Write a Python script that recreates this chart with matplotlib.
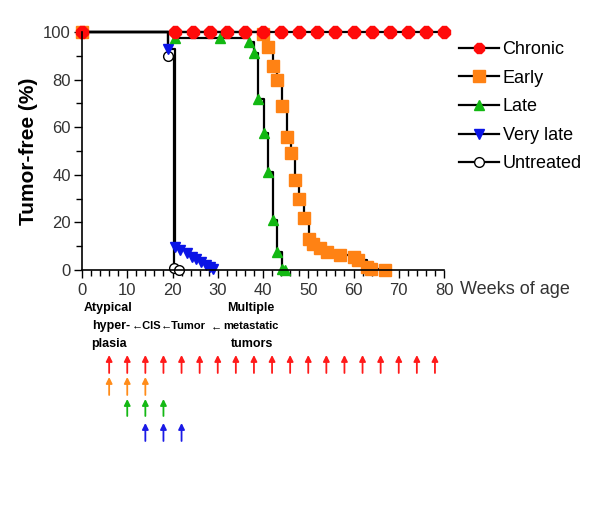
import matplotlib
matplotlib.use("Agg")
import matplotlib.pyplot as plt
import matplotlib.transforms as mtransforms
from matplotlib.lines import Line2D
from matplotlib.ticker import MultipleLocator

plt.rcParams['font.family'] = ['Liberation Sans', 'DejaVu Sans']

# Kaplan-Meier style curves (weeks, % tumor-free)
chronic_wk = [0, 20.5, 24.5, 28.2, 32, 36, 40, 44, 48, 52, 56, 60, 64, 68, 72, 76, 80]
chronic_pct = [100] * len(chronic_wk)

early_wk = [0, 40, 41.2, 42.1, 43.2, 44.1, 45.2, 46.1, 47.1, 48.0, 49.1, 50.2, 51.1,
            52.7, 54.1, 57.0, 60.0, 61.1, 62.9, 63.8, 67.0]
early_pct = [100, 99, 93.8, 85.7, 79.8, 68.9, 55.7, 49, 37.8, 29.8, 21.7, 12.9, 10.9,
             9.1, 7.7, 6.3, 5.6, 4.2, 1.4, 0.3, 0]

late_wk = [0, 20.5, 30.5, 37, 38, 39, 40.2, 41.2, 42.1, 43.2, 44.3, 44.9]
late_pct = [100, 97.4, 97.4, 96, 91, 72, 57.7, 41.3, 21, 7.7, 0.3, 0]

verylate_wk = [0, 19.1, 20.5, 21.7, 23.1, 24.2, 25.3, 26.4, 27.5, 28.3, 29.0]
verylate_pct = [100, 93, 9.8, 8.4, 7.0, 5.6, 4.5, 3.5, 2.1, 1.2, 0.5]

untreated_wk = [0, 19.1, 20.4, 21.4]
untreated_pct = [100, 90, 1, 0]

# treatment arrows (week of dosing) per group
arrow_chronic = list(range(6, 79, 4))
arrow_early = [6, 10, 14]
arrow_late = [10, 14, 18]
arrow_verylate = [14, 18, 22]

fig = plt.figure(figsize=(6, 5.05), dpi=100)
ax = fig.add_axes([82 / 600, 1 - 270 / 505, (444 - 82) / 600, (270 - 32) / 505])

kw = dict(color='black', lw=1.6, drawstyle='steps-post', clip_on=False)
ax.plot(untreated_wk, untreated_pct, marker='o', ms=7, mfc='white', mec='black', mew=1, **kw)
ax.plot(verylate_wk, verylate_pct, marker='v', ms=7, mfc='#0a14e6', mec='#0a14e6', **kw)
ax.plot(late_wk, late_pct, marker='^', ms=7, mfc='#12b812', mec='#12b812', **kw)
ax.plot(early_wk, early_pct, marker='s', ms=8, mfc='#ff8214', mec='#ff8214', **kw)
ax.plot(chronic_wk, chronic_pct, marker='8', ms=9, mfc='#ff0a0a', mec='#ff0a0a', **kw)

ax.set_xlim(0, 80)
ax.set_ylim(0, 100)
ax.xaxis.set_major_locator(MultipleLocator(10))
ax.xaxis.set_minor_locator(MultipleLocator(2))
ax.yaxis.set_major_locator(MultipleLocator(20))
ax.yaxis.set_minor_locator(MultipleLocator(10))
ax.tick_params(which='major', length=6, width=1, labelsize=12, colors='black', labelcolor='#333333')
ax.tick_params(axis='y', which='major', pad=2)
ax.tick_params(which='minor', length=4, width=1)
ax.spines['top'].set_visible(False)
ax.spines['right'].set_visible(False)
ax.spines['left'].set_linewidth(1.2)
ax.spines['bottom'].set_linewidth(1.2)
ax.set_ylabel('Tumor-free (%)', fontsize=15, fontweight='bold')
ax.yaxis.set_label_coords((38 - 82) / 362, 0.5)

fig.text(460 / 600, 1 - 290 / 505, 'Weeks of age', fontsize=13, va='center', ha='left', color='#333333')

handles = [
    Line2D([], [], color='black', lw=1.6, marker='8', ms=8, mfc='#ff0a0a', mec='#ff0a0a'),
    Line2D([], [], color='black', lw=1.6, marker='s', ms=8, mfc='#ff8214', mec='#ff8214'),
    Line2D([], [], color='black', lw=1.6, marker='^', ms=7, mfc='#12b812', mec='#12b812'),
    Line2D([], [], color='black', lw=1.6, marker='v', ms=7, mfc='#0a14e6', mec='#0a14e6'),
    Line2D([], [], color='black', lw=1.6, marker='o', ms=7, mfc='white', mec='black'),
]
labels = ['Chronic', 'Early', 'Late', 'Very late', 'Untreated']
fig.legend(handles, labels, loc='upper left', bbox_to_anchor=(452 / 600, 1 - 34 / 505),
           frameon=False, fontsize=13, handlelength=2.2, handletextpad=0.2,
           labelspacing=0.64, borderaxespad=0)

# stage annotations
tf = dict(fontsize=9, fontweight='bold', va='center', color='black')
af = dict(fontsize=8, fontweight='bold', va='center', color='black')
fig.text(108 / 600, 1 - 308 / 505, 'Atypical', ha='center', **tf)
fig.text(111 / 600, 1 - 326 / 505, 'hyper-', ha='center', **tf)
fig.text(109 / 600, 1 - 344 / 505, 'plasia', ha='center', **tf)
fig.text(132 / 600, 1 - 326 / 505, '\u2190CIS', ha='left', **af)
fig.text(161 / 600, 1 - 326 / 505, '\u2190Tumor', ha='left', **af)
fig.text(211 / 600, 1 - 326 / 505, '\u2190', ha='left', **af)
fig.text(251 / 600, 1 - 326 / 505, 'metastatic', ha='center', **af)
fig.text(251 / 600, 1 - 308 / 505, 'Multiple', ha='center', **tf)
fig.text(252 / 600, 1 - 344 / 505, 'tumors', ha='center', **tf)

# dosing arrows
trans = mtransforms.blended_transform_factory(ax.transData, fig.transFigure)
rows = [
    (arrow_chronic, '#ff1a1a', 355, 373),
    (arrow_early, '#ff8c1a', 377, 395),
    (arrow_late, '#14b814', 399, 416),
    (arrow_verylate, '#1a1ae6', 423, 441),
]
for weeks, col, tip, tail in rows:
    for w in weeks:
        ax.annotate('', xy=(w, 1 - tip / 505), xytext=(w, 1 - tail / 505),
                    xycoords=trans, textcoords=trans, annotation_clip=False,
                    arrowprops=dict(arrowstyle='-|>', color=col, lw=1.3,
                                    mutation_scale=9, shrinkA=0, shrinkB=0))

fig.savefig('out.png', dpi=100)
